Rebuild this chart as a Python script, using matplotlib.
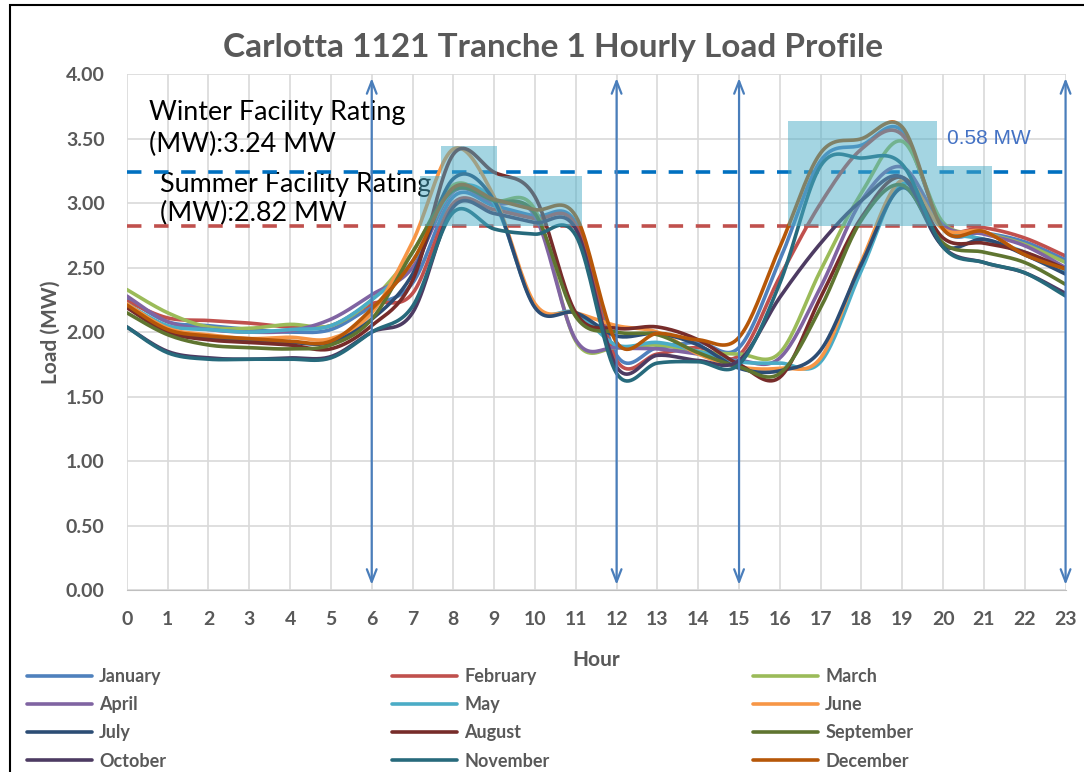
import numpy as np
import matplotlib
matplotlib.use("Agg")
import matplotlib.pyplot as plt
from matplotlib.patches import Polygon, Rectangle

# hourly load (MW)
hours = list(range(24))
months = ["January", "February", "March", "April", "May", "June",
          "July", "August", "September", "October", "November", "December"]
colors = ["#4F81BD", "#C0504D", "#9BBB59", "#8064A2", "#4BACC6", "#F79646",
          "#2C4D75", "#772C2A", "#5F7530", "#4D3B62", "#276A7C", "#B65708"]

jan = [2.26, 2.08, 2.05, 2.02, 2.00, 2.02, 2.20, 2.38, 3.05, 2.98, 2.90, 2.85,
       1.82, 1.88, 1.92, 1.88, 2.56, 3.33, 3.45, 3.56, 2.80, 2.77, 2.70, 2.56]
feb = [2.24, 2.11, 2.09, 2.07, 2.04, 2.05, 2.22, 2.30, 3.00, 2.95, 2.88, 2.83,
       1.78, 1.83, 1.88, 1.82, 2.43, 3.00, 3.42, 3.53, 2.83, 2.81, 2.73, 2.59]
mar = [2.33, 2.15, 2.04, 2.03, 2.06, 2.05, 2.25, 2.62, 3.14, 3.02, 2.95, 1.93,
       1.88, 1.90, 1.85, 1.83, 1.84, 2.48, 3.08, 3.48, 2.85, 2.77, 2.68, 2.54]
apr = [2.28, 2.08, 2.02, 2.00, 2.01, 2.10, 2.29, 2.50, 3.09, 3.00, 2.90, 1.94,
       1.88, 1.87, 1.83, 1.78, 1.80, 2.35, 3.02, 3.28, 2.83, 2.76, 2.67, 2.50]
may = [2.22, 2.05, 2.02, 2.00, 2.02, 2.05, 2.25, 2.55, 3.10, 3.00, 2.20, 2.15,
       1.90, 1.92, 1.85, 1.77, 1.76, 1.77, 2.48, 3.15, 2.80, 2.72, 2.62, 2.47]
jun = [2.22, 2.03, 1.98, 1.95, 1.96, 1.95, 2.15, 2.70, 3.42, 3.05, 2.22, 2.15,
       2.05, 2.00, 1.83, 1.73, 1.72, 1.80, 2.55, 3.18, 2.80, 2.78, 2.60, 2.49]
jul = [2.20, 2.00, 1.95, 1.93, 1.92, 1.92, 2.10, 2.45, 3.19, 3.02, 2.19, 2.15,
       1.97, 1.99, 1.90, 1.72, 1.70, 1.86, 2.53, 3.12, 2.67, 2.72, 2.60, 2.45]
aug = [2.19, 2.00, 1.94, 1.92, 1.90, 1.87, 2.05, 2.40, 3.38, 3.24, 3.05, 2.15,
       2.03, 2.04, 1.94, 1.75, 1.65, 2.27, 2.89, 3.20, 2.73, 2.69, 2.62, 2.49]
sep = [2.15, 1.98, 1.90, 1.88, 1.87, 1.90, 2.10, 2.62, 3.10, 3.02, 2.92, 2.12,
       2.00, 1.98, 1.84, 1.73, 1.68, 2.19, 2.87, 3.14, 2.69, 2.62, 2.54, 2.37]
oct_ = [2.04, 1.85, 1.80, 1.79, 1.80, 1.81, 2.00, 2.15, 2.97, 2.92, 2.85, 2.80,
        1.73, 1.82, 1.78, 1.78, 2.27, 2.69, 3.02, 3.20, 2.66, 2.54, 2.46, 2.30]
nov = [2.04, 1.84, 1.79, 1.79, 1.79, 1.80, 2.00, 2.20, 2.93, 2.80, 2.76, 2.75,
       1.68, 1.76, 1.77, 1.75, 2.38, 3.29, 3.35, 3.30, 2.66, 2.54, 2.46, 2.28]
dec = [2.21, 2.02, 1.97, 1.95, 1.93, 1.93, 2.18, 2.55, 3.12, 3.03, 2.95, 2.90,
       1.92, 1.99, 1.94, 1.96, 2.66, 3.39, 3.50, 3.59, 2.80, 2.78, 2.60, 2.49]
loads = [jan, feb, mar, apr, may, jun, jul, aug, sep, oct_, nov, dec]

winter_rating = 3.24
summer_rating = 2.82
arrow_hours = [6, 12, 15, 23]
# shaded exceedance boxes: (x0, x1, top), bottom is the summer rating
boxes_am = [(7.7, 9.07, 3.44), (7.18, 11.15, 3.21)]
boxes_pm = [(16.2, 19.85, 3.64), (16.2, 21.2, 3.29)]

gray = "#595959"
plt.rcParams["font.family"] = ["Lato", "DejaVu Sans"]


def smooth(x, y, n=20):
    # Excel-style smoothed line (cubic bezier through the points)
    x = np.asarray(x, float)
    y = np.asarray(y, float)
    xs, ys = [], []
    t = np.linspace(0, 1, n, endpoint=False)
    for i in range(len(x) - 1):
        p0 = np.array([x[i], y[i]])
        p3 = np.array([x[i + 1], y[i + 1]])
        pm = np.array([x[max(i - 1, 0)], y[max(i - 1, 0)]])
        pp = np.array([x[min(i + 2, len(x) - 1)], y[min(i + 2, len(x) - 1)]])
        p1 = p0 + (p3 - pm) / 6
        p2 = p3 - (pp - p0) / 6
        b = ((1 - t) ** 3)[:, None] * p0 + (3 * (1 - t) ** 2 * t)[:, None] * p1 \
            + (3 * (1 - t) * t ** 2)[:, None] * p2 + (t ** 3)[:, None] * p3
        xs.extend(b[:, 0])
        ys.extend(b[:, 1])
    xs.append(x[-1])
    ys.append(y[-1])
    return xs, ys


def box_union(b_tall, b_wide, bottom):
    (a0, a1, at), (w0, w1, wt) = b_tall, b_wide
    return [(w0, bottom), (w1, bottom), (w1, wt), (a1, wt), (a1, at),
            (a0, at), (a0, wt), (w0, wt)]


fig = plt.figure(figsize=(10.84, 7.72), dpi=100)
ax = fig.add_axes([0.117, 0.2358, 0.866, 0.668])

handles = []
for name, col, vals in zip(months, colors, loads):
    sx, sy = smooth(hours, vals)
    ln, = ax.plot(sx, sy, color=col, lw=2.6, solid_capstyle="round", zorder=3, label=name)
    handles.append(ln)

ax.axhline(winter_rating, color="#0070C0", lw=2.6, ls=(0, (4, 3.5)), zorder=2)
ax.axhline(summer_rating, color="#C0504D", lw=2.6, ls=(0, (4, 3.5)), zorder=2)

for pts in (box_union(boxes_am[0], boxes_am[1], summer_rating),
            box_union(boxes_pm[0], boxes_pm[1], summer_rating)):
    ax.add_patch(Polygon(pts, closed=True, facecolor="#4BACC6", alpha=0.5,
                         edgecolor="none", zorder=4))

for h in arrow_hours:
    ax.annotate("", xy=(h, 0.04), xytext=(h, 3.97),
                arrowprops=dict(arrowstyle="<->,head_length=0.9,head_width=0.35",
                                color="#4A7EBB", lw=1.6, shrinkA=0, shrinkB=0),
                zorder=5)

ax.text(0.54, 3.58, "Winter Facility Rating\n(MW):3.24 MW", fontsize=19.4,
        color="black", va="center", ha="left", linespacing=1.33, zorder=1)
ax.text(0.81, 3.035, "Summer Facility Rating\n(MW):2.82 MW", fontsize=19.4,
        color="black", va="center", ha="left", linespacing=1.2, zorder=1)
ax.text(20.1, 3.50, "0.58 MW", fontsize=15, color="#4472C4",
        family="Liberation Sans", va="center", ha="left", zorder=6)

ax.set_xlim(0, 23)
ax.set_ylim(0, 4)
ax.set_xticks(hours)
ax.set_yticks(np.arange(0, 4.01, 0.5))
ax.set_yticklabels([f"{v:.2f}" for v in np.arange(0, 4.01, 0.5)])
ax.tick_params(length=0, labelsize=14, labelcolor=gray)
ax.tick_params(axis="x", pad=15)
ax.tick_params(axis="y", pad=16)
for lab in ax.get_xticklabels() + ax.get_yticklabels():
    lab.set_fontweight("bold")
ax.grid(True, color="#D9D9D9", lw=1.2)
ax.set_axisbelow(True)
for s in ["top", "right", "left"]:
    ax.spines[s].set_visible(False)
ax.spines["bottom"].set_color("#BFBFBF")

ax.set_xlabel("Hour", fontsize=15, fontweight="bold", color=gray, labelpad=16)
ax.set_ylabel("Load (MW)", fontsize=15, fontweight="bold", color=gray, labelpad=4)
fig.text(0.51, 0.939, "Carlotta 1121 Tranche 1 Hourly Load Profile", fontsize=24,
         fontweight="bold", color=gray, ha="center", va="center")

# legend, three columns laid out row by row
col_x = [0.018, 0.355, 0.688]
for c in range(3):
    leg = fig.legend(handles=handles[c::3], loc="upper left",
                     bbox_to_anchor=(col_x[c], 0.144), frameon=False,
                     handlelength=3.6, handletextpad=0.4, labelspacing=0.62,
                     prop=dict(size=13, weight="bold"), borderaxespad=0)
    for t in leg.get_texts():
        t.set_color(gray)

# chart frame
fig.add_artist(Rectangle((0.009, -0.05), 0.995, 1.044, transform=fig.transFigure,
                         fill=False, edgecolor="black", lw=1.5))

fig.savefig("out.png", dpi=100)
